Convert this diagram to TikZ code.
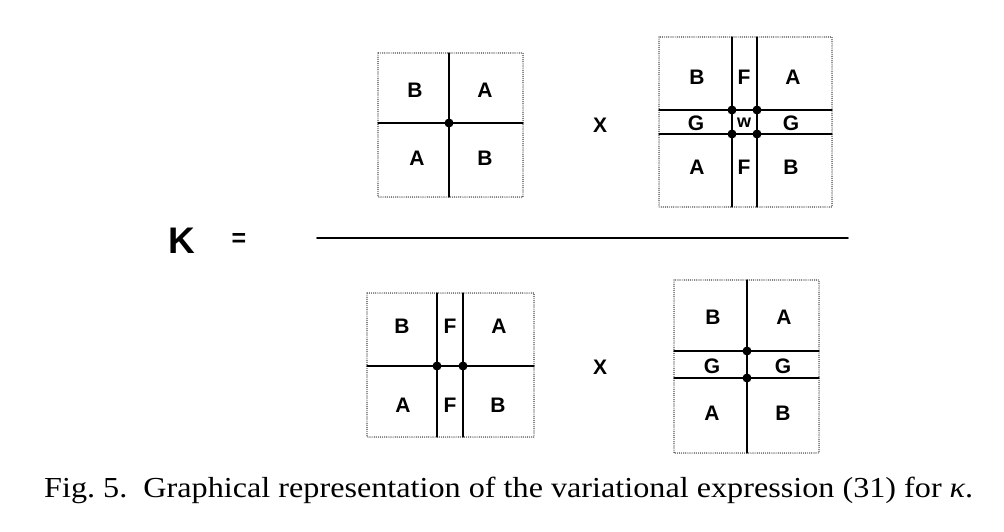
\documentclass[tikz,border=0pt]{standalone}
\usepackage{fontspec}
\setmainfont{Liberation Serif}
\newfontfamily\cellfont{Liberation Sans}
\begin{document}
\begin{tikzpicture}[x=1pt, y=-1pt, line join=round, line cap=round,
	cell/.style={font=\cellfont\bfseries\fontsize{21}{21}\selectfont, inner sep=0pt},
	frame/.style={line width=1.2pt, dash pattern=on 0pt off 2.1pt},
	wall/.style={line width=1.3pt}]
			\useasboundingbox (0,0) rectangle (1004,531);
			% numerator, left square
			\draw[frame] (378,53) rectangle (523,197);
			\draw[wall] (449,53)--(449,197) (378,123)--(523,123);
			\fill (449,123) circle (4.5pt);
			\foreach \x/\y/\t [count=\i] in {415/90/B, 485/90/A, 417/158/A, 485/158/B}
				\node[cell] (na\i) at (\x,\y) {\t};
			\node[cell] (nx) at (600,125) {X};
			% numerator, right square
			\draw[frame] (659,37) rectangle (832,207);
			\draw[wall] (732,37)--(732,207) (757,37)--(757,207) (659,110)--(832,110) (659,134)--(832,134);
			\foreach \x/\y in {732/110, 757/110, 732/134, 757/134}\fill (\x,\y) circle (4.5pt);
			\foreach \x/\y/\t [count=\i] in {697/77/B, 744/77/F, 793/77/A, 696/123/G, 791/123/G, 697/167/A, 744/167/F, 791/167/B}
				\node[cell] (nb\i) at (\x,\y) {\t};
			\node[cell, font=\cellfont\bfseries\fontsize{18}{18}\selectfont] (nw) at (744,123) {w};
			% fraction
			\node[cell, font=\cellfont\bfseries\fontsize{37}{37}\selectfont] (k) at (182,241) {K};
			\node[cell, font=\cellfont\bfseries\fontsize{25}{25}\selectfont] (eq) at (239,240) {=};
			\coordinate (bl) at (317,238); \coordinate (br) at (848,238);
			\draw[line width=1.6pt] (bl)--(br);
			% denominator, left square
			\draw[frame] (367,293) rectangle (534,437);
			\draw[wall] (437,293)--(437,437) (463,293)--(463,437) (367,366)--(534,366);
			\foreach \x in {437,463}\fill (\x,366) circle (4.5pt);
			\foreach \x/\y/\t [count=\i] in {402/326/B, 450/326/F, 499/326/A, 403/405/A, 450/405/F, 498/405/B}
				\node[cell] (da\i) at (\x,\y) {\t};
			\node[cell] (dx) at (600,367) {X};
			% denominator, right square
			\draw[frame] (674,280) rectangle (819,453);
			\draw[wall] (747,280)--(747,453) (674,351)--(819,351) (674,378)--(819,378);
			\foreach \y in {351,378}\fill (747,\y) circle (4.5pt);
			\foreach \x/\y/\t [count=\i] in {713/317/B, 784/317/A, 712/366/G, 783/366/G, 712/413/A, 783/413/B}
				\node[cell] (db\i) at (\x,\y) {\t};
			% caption
			\node[anchor=base west, inner sep=0pt, font=\fontsize{29}{29}\selectfont] (cap) at (44,497)
				{\scalebox{1.11}[1]{Fig.~5.\ \ Graphical representation of the variational expression (31) for \textit{κ}.}};
		\end{tikzpicture}
\end{document}
